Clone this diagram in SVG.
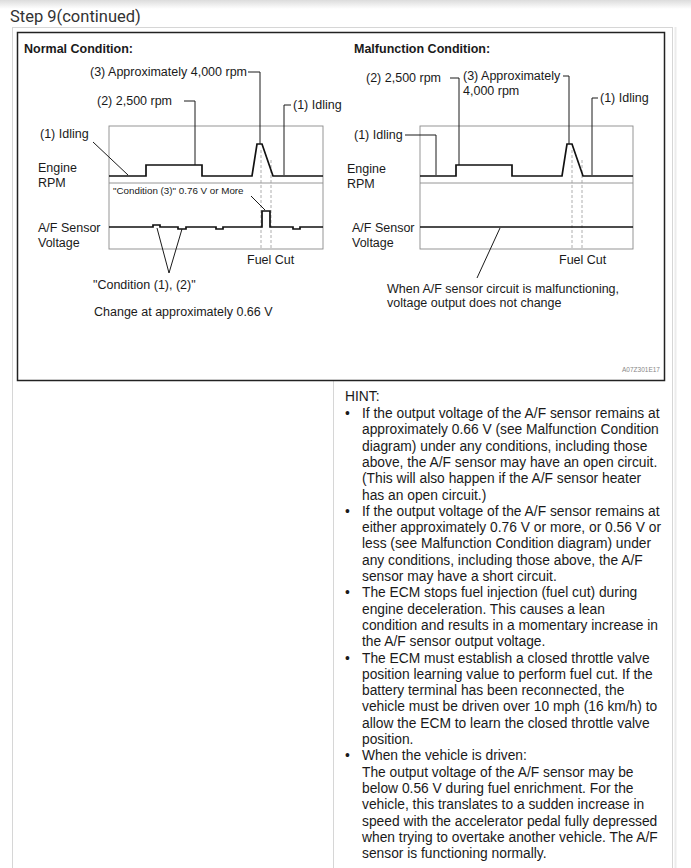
<svg xmlns="http://www.w3.org/2000/svg" width="691" height="868" viewBox="0 0 691 868">
<defs>
<linearGradient id="topShade" x1="0" y1="0" x2="0" y2="1">
<stop offset="0" stop-color="#dcdcdc"/>
<stop offset="1" stop-color="#ffffff"/>
</linearGradient>
<style>
.t{font-family:"Liberation Sans",Arial,sans-serif;font-size:12.5px;fill:#1a1a1a}
.tb{font-family:"Liberation Sans",Arial,sans-serif;font-size:12.5px;font-weight:bold;fill:#1a1a1a}
.ts{font-family:"Liberation Sans",Arial,sans-serif;font-size:9.8px;fill:#1a1a1a}
.h{font-family:"Liberation Sans",Arial,sans-serif;font-size:13.8px;fill:#1a1a1a}
.lead{fill:none;stroke:#1a1a1a;stroke-width:1}
.trace{fill:none;stroke:#111;stroke-width:1.7;stroke-linejoin:miter}
.plot{fill:none;stroke:#8a8a8a;stroke-width:0.9}
.dash{fill:none;stroke:#999;stroke-width:0.8;stroke-dasharray:3,2}
</style>
</defs>
<rect width="691" height="868" fill="#ffffff"/>
<rect width="691" height="9" fill="url(#topShade)"/>
<text x="10" y="22" style="font-family:Roboto,'Liberation Sans',sans-serif;font-size:16.5px;fill:#333">Step 9(continued)</text>

<!-- card -->
<g id="card">
<rect x="12.5" y="27.5" width="660" height="845" fill="none" stroke="#d6d6d6" stroke-width="1"/>
<line x1="675.5" y1="27" x2="675.5" y2="868" stroke="#ececec" stroke-width="2"/>
<line x1="333.5" y1="381" x2="333.5" y2="868" stroke="#d6d6d6" stroke-width="1"/>
<rect x="17.5" y="32.5" width="647" height="348" fill="none" stroke="#222" stroke-width="1.5"/>
<text x="622" y="372" style="font-family:'Liberation Sans',Arial,sans-serif;font-size:6.5px;fill:#888">A07Z301E17</text>
</g>

<!-- Normal condition panel -->
<g id="normal">
<text class="tb" x="24" y="53">Normal Condition:</text>
<rect class="plot" x="109" y="126" width="214" height="123"/>
<line class="plot" x1="109" y1="183" x2="323" y2="183"/>
<line class="dash" x1="261" y1="150" x2="261" y2="249"/>
<line class="dash" x1="271" y1="160" x2="271" y2="249"/>
<polyline class="trace" points="109,176 146,176 146,165 202,165 202,176 252,176 257,144 262,144 273,176 323,176"/>
<polyline class="trace" points="109,227 153,227 153,225 160,225 160,227 178,227 178,229 186,229 186,227 216,227 216,229 223,229 223,227 262,227 262,211 270,211 270,227 293,227 293,229 300,229 300,227 323,227"/>
<text class="t" x="38" y="172">Engine</text>
<text class="t" x="38" y="187">RPM</text>
<text class="t" x="38" y="232">A/F Sensor</text>
<text class="t" x="38" y="247">Voltage</text>
<text class="t" x="90" y="76">(3) Approximately 4,000 rpm</text>
<polyline class="lead" points="248,72 260,72 260,144"/>
<text class="t" x="97" y="105">(2) 2,500 rpm</text>
<polyline class="lead" points="184,101 195,101 195,165"/>
<text class="t" x="293" y="109">(1) Idling</text>
<polyline class="lead" points="291,105 284,105 284,175"/>
<text class="t" x="40" y="138">(1) Idling</text>
<line class="lead" x1="93" y1="142" x2="128" y2="175"/>
<text class="ts" x="113" y="194">"Condition (3)" 0.76 V or More</text>
<line class="lead" x1="251" y1="196" x2="265" y2="210"/>
<text class="t" x="247" y="264">Fuel Cut</text>
<polyline class="lead" points="157,228 169,273 182,229"/>
<text class="t" x="93" y="289">"Condition (1), (2)"</text>
<text class="t" x="94" y="316">Change at approximately 0.66  V</text>
</g>

<!-- Malfunction condition panel -->
<g id="malfunction">
<text class="tb" x="354" y="53">Malfunction Condition:</text>
<rect class="plot" x="420" y="126" width="213" height="123"/>
<line class="plot" x1="420" y1="183" x2="633" y2="183"/>
<line class="dash" x1="572" y1="150" x2="572" y2="249"/>
<line class="dash" x1="582" y1="160" x2="582" y2="249"/>
<polyline class="trace" points="420,176 456,176 456,165 512,165 512,176 562,176 567,144 572,144 583,176 633,176"/>
<line class="trace" x1="420" y1="227" x2="633" y2="227"/>
<text class="t" x="347" y="173">Engine</text>
<text class="t" x="347" y="188">RPM</text>
<text class="t" x="352" y="232">A/F Sensor</text>
<text class="t" x="352" y="247">Voltage</text>
<text class="t" x="366" y="82">(2) 2,500 rpm</text>
<polyline class="lead" points="450,78 459,78 459,165"/>
<text class="t" x="463" y="80">(3) Approximately</text>
<text class="t" x="463" y="95">4,000 rpm</text>
<polyline class="lead" points="563,76 569,76 569,144"/>
<text class="t" x="600" y="102">(1) Idling</text>
<polyline class="lead" points="598,98 592,98 592,175"/>
<text class="t" x="354" y="139">(1) Idling</text>
<polyline class="lead" points="405,135 436,135 436,175"/>
<text class="t" x="559" y="264">Fuel Cut</text>
<line class="lead" x1="500" y1="228" x2="477" y2="278"/>
<text class="t" x="387" y="293">When A/F sensor circuit is malfunctioning,</text>
<text class="t" x="387" y="307">voltage output does not change</text>
</g>

<!-- Hint -->
<g id="hint">
<text class="h" x="345" y="401">HINT:</text>
<text class="h" x="345" y="418">•</text>
<text class="h" x="345" y="515.8">•</text>
<text class="h" x="345" y="597.3">•</text>
<text class="h" x="345" y="662.5">•</text>
<text class="h" x="345" y="760.3">•</text>
<text class="h" x="362" y="418">If the output voltage of the A/F sensor remains at</text>
<text class="h" x="362" y="434.3">approximately 0.66 V (see Malfunction Condition</text>
<text class="h" x="362" y="450.6">diagram) under any conditions, including those</text>
<text class="h" x="362" y="466.9">above, the A/F sensor may have an open circuit.</text>
<text class="h" x="362" y="483.2">(This will also happen if the A/F sensor heater</text>
<text class="h" x="362" y="499.5">has an open circuit.)</text>
<text class="h" x="362" y="515.8">If the output voltage of the A/F sensor remains at</text>
<text class="h" x="362" y="532.1">either approximately 0.76 V or more, or 0.56 V or</text>
<text class="h" x="362" y="548.4">less (see Malfunction Condition diagram) under</text>
<text class="h" x="362" y="564.7">any conditions, including those above, the A/F</text>
<text class="h" x="362" y="581">sensor may have a short circuit.</text>
<text class="h" x="362" y="597.3">The ECM stops fuel injection (fuel cut) during</text>
<text class="h" x="362" y="613.6">engine deceleration. This causes a lean</text>
<text class="h" x="362" y="629.9">condition and results in a momentary increase in</text>
<text class="h" x="362" y="646.2">the A/F sensor output voltage.</text>
<text class="h" x="362" y="662.5">The ECM must establish a closed throttle valve</text>
<text class="h" x="362" y="678.8">position learning value to perform fuel cut. If the</text>
<text class="h" x="362" y="695.1">battery terminal has been reconnected, the</text>
<text class="h" x="362" y="711.4">vehicle must be driven over 10 mph (16 km/h) to</text>
<text class="h" x="362" y="727.7">allow the ECM to learn the closed throttle valve</text>
<text class="h" x="362" y="744">position.</text>
<text class="h" x="362" y="760.3">When the vehicle is driven:</text>
<text class="h" x="362" y="776.6">The output voltage of the A/F sensor may be</text>
<text class="h" x="362" y="792.9">below 0.56 V during fuel enrichment. For the</text>
<text class="h" x="362" y="809.2">vehicle, this translates to a sudden increase in</text>
<text class="h" x="362" y="825.5">speed with the accelerator pedal fully depressed</text>
<text class="h" x="362" y="841.8">when trying to overtake another vehicle. The A/F</text>
<text class="h" x="362" y="858.1">sensor is functioning normally.</text>
</g>
</svg>
